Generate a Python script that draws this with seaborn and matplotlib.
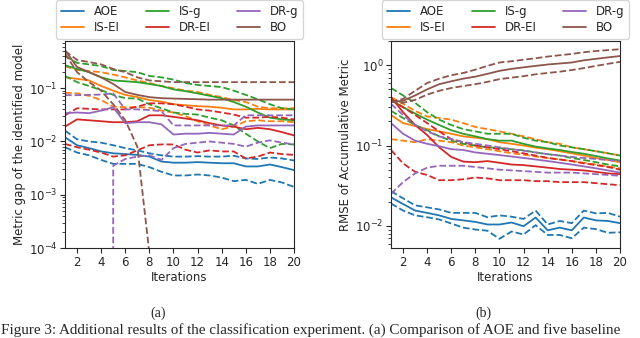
import numpy as np
import pandas as pd
import matplotlib
matplotlib.use("Agg")
import matplotlib.pyplot as plt
from matplotlib.lines import Line2D
import seaborn as sns

# --- data (mean, lower band, upper band) ---
iters = list(range(1, 21))
methods = ['AOE', 'IS-EI', 'IS-g', 'DR-EI', 'DR-g', 'BO']
colors = ['#1f77b4', '#ff7f0e', '#2ca02c', '#d62728', '#9467bd', '#8c564b']

# (a) metric gap of the identified model
aoe_a = [0.012, 0.0085, 0.0075, 0.0065, 0.006, 0.0058, 0.0056, 0.0052, 0.0042, 0.0040,
         0.0040, 0.0041, 0.0040, 0.0039, 0.0039, 0.0034, 0.0034, 0.0037, 0.0033, 0.0029]
aoe_a_lo = [0.0078, 0.0062, 0.0055, 0.0045, 0.0038, 0.0038, 0.0038, 0.0033, 0.0027, 0.0023,
            0.0023, 0.0024, 0.0023, 0.0021, 0.0018, 0.0019, 0.0016, 0.0019, 0.0017, 0.0014]
aoe_a_hi = [0.016, 0.011, 0.010, 0.0095, 0.0085, 0.0075, 0.0068, 0.0060, 0.0055, 0.0052,
            0.0052, 0.0053, 0.0052, 0.0052, 0.0054, 0.0048, 0.0047, 0.0050, 0.0048, 0.0044]
isei_a = [0.16, 0.15, 0.14, 0.11, 0.09, 0.075, 0.068, 0.06, 0.056, 0.05,
          0.048, 0.046, 0.045, 0.043, 0.040, 0.040, 0.041, 0.040, 0.040, 0.040]
isei_a_lo = [0.082, 0.080, 0.072, 0.060, 0.045, 0.044, 0.044, 0.043, 0.038, 0.035,
             0.030, 0.024, 0.020, 0.017, 0.019, 0.024, 0.025, 0.024, 0.024, 0.023]
isei_a_hi = [0.26, 0.22, 0.21, 0.20, 0.18, 0.16, 0.14, 0.125, 0.11, 0.10,
             0.09, 0.085, 0.075, 0.068, 0.060, 0.055, 0.045, 0.042, 0.042, 0.042]
isg_a = [0.27, 0.23, 0.20, 0.16, 0.14, 0.135, 0.13, 0.12, 0.11, 0.095,
         0.088, 0.080, 0.072, 0.065, 0.055, 0.045, 0.035, 0.028, 0.026, 0.025]
isg_a_lo = [0.17, 0.13, 0.11, 0.092, 0.075, 0.065, 0.064, 0.050, 0.042, 0.035,
            0.033, 0.032, 0.028, 0.025, 0.020, 0.014, 0.010, 0.0075, 0.009, 0.0088]
isg_a_hi = [0.40, 0.30, 0.28, 0.26, 0.22, 0.21, 0.20, 0.17, 0.16, 0.145,
            0.125, 0.115, 0.11, 0.105, 0.09, 0.075, 0.062, 0.05, 0.042, 0.040]
drei_a = [0.019, 0.026, 0.025, 0.024, 0.023, 0.023, 0.024, 0.031, 0.031, 0.029,
          0.027, 0.025, 0.022, 0.020, 0.019, 0.017, 0.018, 0.017, 0.015, 0.013]
drei_a_lo = [0.009, 0.0078, 0.007, 0.0062, 0.0052, 0.0055, 0.0068, 0.0085, 0.0088, 0.0088,
             0.007, 0.0062, 0.0068, 0.0065, 0.0065, 0.0048, 0.0052, 0.0062, 0.0058, 0.0056]
drei_a_hi = [0.031, 0.042, 0.041, 0.040, 0.040, 0.040, 0.045, 0.052, 0.052, 0.050,
             0.045, 0.040, 0.038, 0.035, 0.032, 0.028, 0.028, 0.029, 0.028, 0.026]
drg_a = [0.034, 0.035, 0.034, 0.038, 0.044, 0.022, 0.023, 0.023, 0.021, 0.0135,
         0.014, 0.014, 0.0145, 0.014, 0.0135, 0.019, 0.020, 0.020, 0.020, 0.020]
drg_a_lo = [0.0, 0.0, 0.0, 0.0, 0.0035, 0.0047, 0.0052, 0.0055, 0.0045, 0.0075,
            0.009, 0.0095, 0.010, 0.0095, 0.009, 0.008, 0.0095, 0.0105, 0.0095, 0.0088]
drg_a_hi = [0.074, 0.074, 0.075, 0.076, 0.080, 0.040, 0.040, 0.039, 0.037, 0.020,
            0.020, 0.020, 0.020, 0.020, 0.020, 0.031, 0.031, 0.031, 0.031, 0.031]
bo_a = [0.52, 0.25, 0.20, 0.16, 0.12, 0.085, 0.075, 0.068, 0.065, 0.064,
        0.063, 0.062, 0.061, 0.061, 0.061, 0.061, 0.061, 0.061, 0.061, 0.061]
bo_a_lo = [0.45, 0.20, 0.13, 0.09, 0.05, 0.025, 0.008, 0.00008, 0.0, 0.0,
           0.0, 0.0, 0.0, 0.0, 0.0, 0.0, 0.0, 0.0, 0.0, 0.0]
bo_a_hi = [0.50, 0.34, 0.31, 0.28, 0.23, 0.20, 0.16, 0.14, 0.135, 0.13,
           0.13, 0.13, 0.13, 0.13, 0.13, 0.13, 0.13, 0.13, 0.13, 0.13]

# (b) RMSE of accumulative metric
aoe_b = [0.0226, 0.0187, 0.0155, 0.0145, 0.0135, 0.0122, 0.0117, 0.0112, 0.0104, 0.0104,
         0.011, 0.0099, 0.0127, 0.0088, 0.0095, 0.0088, 0.0127, 0.0117, 0.0115, 0.0108]
aoe_b_lo = [0.019, 0.0155, 0.0135, 0.0128, 0.012, 0.0107, 0.0095, 0.009, 0.0087, 0.0069,
            0.0085, 0.0078, 0.0102, 0.0077, 0.0077, 0.007, 0.0095, 0.0091, 0.0082, 0.0083]
aoe_b_hi = [0.027, 0.022, 0.018, 0.017, 0.016, 0.0145, 0.0145, 0.0145, 0.0128, 0.0135,
            0.013, 0.0122, 0.0155, 0.0104, 0.0115, 0.0108, 0.0155, 0.0143, 0.0145, 0.013]
isei_b = [0.24, 0.19, 0.175, 0.16, 0.15, 0.14, 0.13, 0.125, 0.12, 0.11,
          0.105, 0.10, 0.094, 0.09, 0.085, 0.08, 0.075, 0.07, 0.066, 0.062]
isei_b_lo = [0.12, 0.115, 0.11, 0.12, 0.115, 0.11, 0.10, 0.095, 0.09, 0.085,
             0.08, 0.077, 0.073, 0.07, 0.067, 0.064, 0.061, 0.058, 0.055, 0.052]
isei_b_hi = [0.40, 0.33, 0.27, 0.23, 0.22, 0.21, 0.19, 0.17, 0.16, 0.15,
             0.14, 0.13, 0.12, 0.11, 0.105, 0.095, 0.09, 0.085, 0.08, 0.075]
isg_b = [0.37, 0.30, 0.25, 0.21, 0.18, 0.155, 0.14, 0.13, 0.12, 0.115,
         0.115, 0.105, 0.097, 0.092, 0.088, 0.083, 0.079, 0.074, 0.069, 0.065]
isg_b_lo = [0.27, 0.22, 0.18, 0.155, 0.13, 0.115, 0.105, 0.10, 0.095, 0.093,
            0.09, 0.087, 0.082, 0.078, 0.075, 0.07, 0.066, 0.062, 0.058, 0.055]
isg_b_hi = [0.52, 0.42, 0.34, 0.26, 0.21, 0.18, 0.16, 0.15, 0.14, 0.14,
            0.14, 0.125, 0.115, 0.11, 0.10, 0.095, 0.09, 0.085, 0.08, 0.075]
drei_b = [0.40, 0.26, 0.18, 0.135, 0.095, 0.072, 0.063, 0.062, 0.064, 0.061,
          0.058, 0.057, 0.055, 0.053, 0.051, 0.05, 0.049, 0.047, 0.045, 0.044]
drei_b_lo = [0.088, 0.06, 0.047, 0.043, 0.037, 0.037, 0.038, 0.04, 0.039, 0.037,
             0.037, 0.037, 0.036, 0.036, 0.035, 0.035, 0.035, 0.034, 0.033, 0.032]
drei_b_hi = [0.37, 0.30, 0.24, 0.19, 0.15, 0.12, 0.11, 0.10, 0.095, 0.09,
             0.085, 0.08, 0.075, 0.07, 0.067, 0.064, 0.06, 0.057, 0.054, 0.05]
drg_b = [0.19, 0.14, 0.115, 0.105, 0.098, 0.09, 0.088, 0.082, 0.079, 0.076,
         0.073, 0.07, 0.067, 0.064, 0.061, 0.058, 0.055, 0.052, 0.049, 0.046]
drg_b_lo = [0.025, 0.035, 0.045, 0.053, 0.056, 0.056, 0.056, 0.054, 0.052, 0.05,
            0.049, 0.048, 0.047, 0.046, 0.046, 0.046, 0.045, 0.044, 0.043, 0.042]
drg_b_hi = [0.33, 0.24, 0.18, 0.15, 0.13, 0.12, 0.11, 0.105, 0.10, 0.095,
            0.09, 0.086, 0.082, 0.078, 0.075, 0.072, 0.07, 0.068, 0.066, 0.064]
bo_b = [0.35, 0.36, 0.42, 0.50, 0.58, 0.63, 0.68, 0.72, 0.78, 0.85,
        0.90, 0.94, 0.98, 1.02, 1.05, 1.08, 1.15, 1.20, 1.25, 1.30]
bo_b_lo = [0.35, 0.34, 0.37, 0.43, 0.48, 0.52, 0.55, 0.58, 0.62, 0.67,
           0.70, 0.73, 0.77, 0.80, 0.83, 0.87, 0.92, 0.98, 1.04, 1.10]
bo_b_hi = [0.35, 0.38, 0.48, 0.60, 0.68, 0.75, 0.80, 0.88, 0.98, 1.08,
           1.12, 1.17, 1.22, 1.28, 1.33, 1.38, 1.45, 1.50, 1.54, 1.58]

panel_a = {'AOE': (aoe_a, aoe_a_lo, aoe_a_hi), 'IS-EI': (isei_a, isei_a_lo, isei_a_hi),
           'IS-g': (isg_a, isg_a_lo, isg_a_hi), 'DR-EI': (drei_a, drei_a_lo, drei_a_hi),
           'DR-g': (drg_a, drg_a_lo, drg_a_hi), 'BO': (bo_a, bo_a_lo, bo_a_hi)}
panel_b = {'AOE': (aoe_b, aoe_b_lo, aoe_b_hi), 'IS-EI': (isei_b, isei_b_lo, isei_b_hi),
           'IS-g': (isg_b, isg_b_lo, isg_b_hi), 'DR-EI': (drei_b, drei_b_lo, drei_b_hi),
           'DR-g': (drg_b, drg_b_lo, drg_b_hi), 'BO': (bo_b, bo_b_lo, bo_b_hi)}

sns.set_style("ticks")
plt.rcParams['font.family'] = ['DejaVu Sans']
FS = 8.5
LW = 1.3

fig = plt.figure(figsize=(6.4, 3.38), dpi=100)
ax_a = fig.add_axes([65 / 640, 1 - 248 / 338, 229 / 640, 207 / 338])
ax_b = fig.add_axes([391 / 640, 1 - 248 / 338, 229 / 640, 207 / 338])


def draw_panel(ax, panel, ylabel, ylim):
    for name, color in zip(methods, colors):
        mean, lo, hi = panel[name]
        sns.lineplot(x=iters, y=mean, ax=ax, color=color, lw=LW, legend=False)
        sns.lineplot(x=iters, y=lo, ax=ax, color=color, lw=LW, linestyle='--', legend=False)
        sns.lineplot(x=iters, y=hi, ax=ax, color=color, lw=LW, linestyle='--', legend=False)
    ax.set_yscale('log')
    ax.set_ylim(*ylim)
    ax.set_xlim(1, 20)
    ax.set_xticks(range(2, 21, 2))
    ax.set_xlabel('Iterations', fontsize=FS, labelpad=2)
    ax.set_ylabel(ylabel, fontsize=FS, labelpad=2)
    ax.tick_params(labelsize=FS, length=3.5, pad=2)
    ax.tick_params(which='minor', length=2)
    for sp in ax.spines.values():
        sp.set_visible(True)
        sp.set_linewidth(0.8)
    handles = [Line2D([], [], color=c, lw=LW, linestyle='-') for c in colors]
    ax.legend(handles, methods, loc='lower center', bbox_to_anchor=(0.5, 1.0), ncol=3,
              fontsize=FS, borderaxespad=0.2, columnspacing=2.2, handlelength=2.0,
              handletextpad=0.8, labelspacing=0.25, frameon=True)


draw_panel(ax_a, panel_a, 'Metric gap of the identified model', (1e-4, 0.77))
draw_panel(ax_b, panel_b, 'RMSE of Accumulative Metric', (0.0053, 2.0))

serif = ['Liberation Serif', 'DejaVu Serif']
fig.text(158 / 640, 1 - 313 / 338, '(a)', ha='center', va='center', fontsize=10, family=serif)
fig.text(483 / 640, 1 - 313 / 338, '(b)', ha='center', va='center', fontsize=10, family=serif)
fig.text(1 / 640, 1 / 338,
         'Figure 3: Additional results of the classification experiment. (a) Comparison of AOE and five baseline',
         ha='left', va='bottom', fontsize=10.9, family=serif)

fig.savefig('out.png', dpi=100)
